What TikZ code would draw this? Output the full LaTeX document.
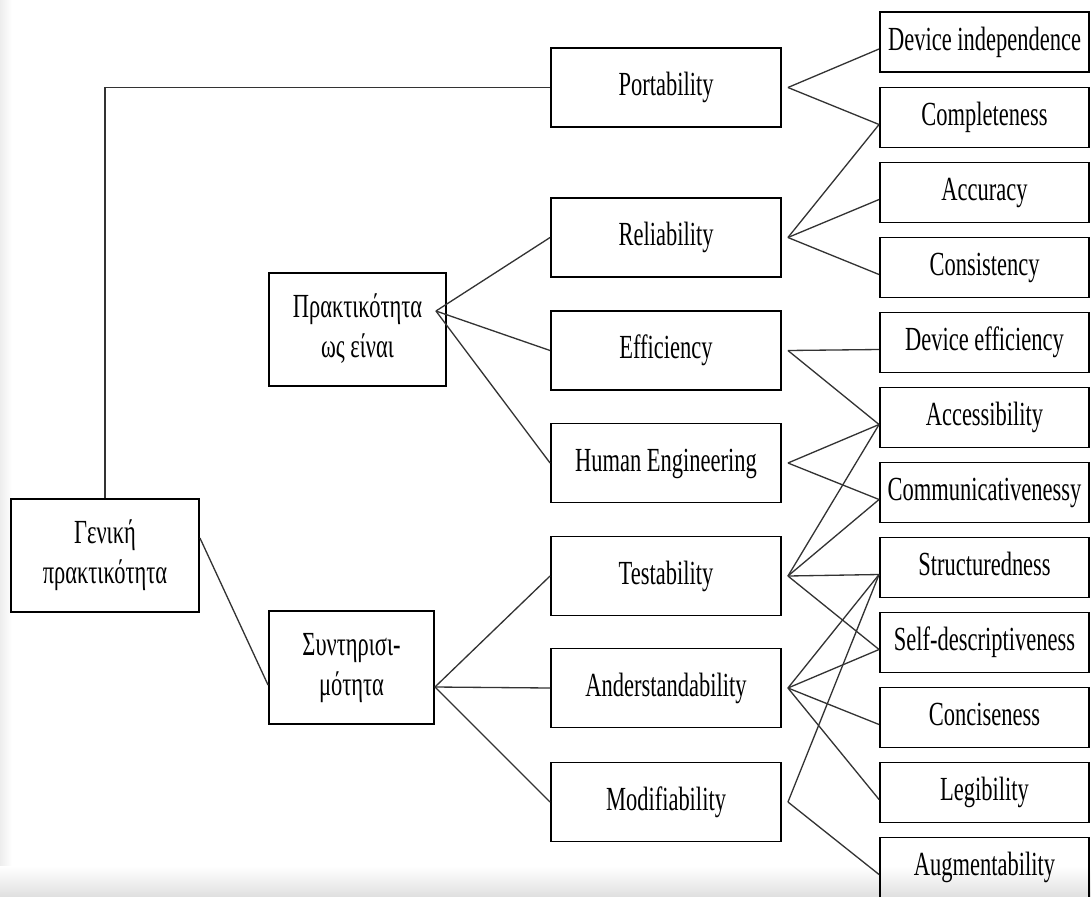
\documentclass[tikz,border=0pt]{standalone}
\usepackage{fontspec}
\setmainfont{Liberation Serif}
\usepackage{graphicx}
\usepackage{tikz}

% the scanned labels are tall and narrow
\newcommand{\tallbox}[1]{\scalebox{1}[1.5]{\begin{tabular}{@{}c@{}}#1\end{tabular}}}

\begin{document}
\begin{tikzpicture}[
  x=0.02cm, y=-0.02cm,
  font=\fontsize{12.8}{15.4}\selectfont,
  nodebox/.style={draw, line width=1.1pt, inner sep=0pt, align=center},
  topbox/.style={nodebox, minimum height=2.26cm},
  midbox/.style={nodebox, minimum width=4.6cm, minimum height=1.58cm},
  leafbox/.style={nodebox, minimum width=4.18cm, minimum height=1.2cm},
  link/.style={line width=0.75pt, draw=black!80},
]
\useasboundingbox (0,0) rectangle (1091,896);
\shade[left color=black!7, right color=white] (0,0) rectangle (12,896);
\shade[top color=white, bottom color=black!12] (0,866) rectangle (1091,896);

\node[topbox, minimum width=3.76cm] (gen) at (105,555.5) {\tallbox{Γενική\\πρακτικότητα}};
\node[topbox, minimum width=3.54cm] (prakt) at (357.5,329.5) {\tallbox{Πρακτικότητα\\ως είναι}};
\node[topbox, minimum width=3.3cm] (synt) at (351.5,667.5) {\tallbox{Συντηρισι-\\μότητα}};

\node[midbox] (port) at (666,87.5) {\tallbox{Portability}};
\node[midbox] (rel) at (666,237.5) {\tallbox{Reliability}};
\node[midbox] (eff) at (666,350.5) {\tallbox{Efficiency}};
\node[midbox] (hum) at (666,463) {\tallbox{Human Engineering}};
\node[midbox] (test) at (666,576) {\tallbox{Testability}};
\node[midbox] (und) at (666,688) {\tallbox{Anderstandability}};
\node[midbox] (mod) at (666,802) {\tallbox{Modifiability}};

\node[leafbox] (devind) at (984.5,42) {\tallbox{Device independence}};
\node[leafbox] (compl) at (984.5,117.5) {\tallbox{Completeness}};
\node[leafbox] (accur) at (984.5,192.5) {\tallbox{Accuracy}};
\node[leafbox] (consis) at (984.5,267.5) {\tallbox{Consistency}};
\node[leafbox] (deveff) at (984.5,342.5) {\tallbox{Device efficiency}};
\node[leafbox] (access) at (984.5,417.5) {\tallbox{Accessibility}};
\node[leafbox] (commun) at (984.5,492.5) {\tallbox{Communicativenessy}};
\node[leafbox] (struct) at (984.5,567.5) {\tallbox{Structuredness}};
\node[leafbox] (selfdesc) at (984.5,642.5) {\tallbox{Self-descriptiveness}};
\node[leafbox] (concise) at (984.5,717.5) {\tallbox{Conciseness}};
\node[leafbox] (legib) at (984.5,792.5) {\tallbox{Legibility}};
\node[leafbox] (augment) at (984.5,867.5) {\tallbox{Augmentability}};

\coordinate (praktout) at ([xshift=-0.22cm, yshift=0.37cm]prakt.east);
\coordinate (syntout) at ([yshift=-0.39cm]synt.east);

\draw[link] (gen.north) |- (port.west);
\draw[link] ([yshift=0.35cm]gen.east) -- ([yshift=-0.35cm]synt.west);
\draw[link] (praktout) -- (rel.west);
\draw[link] (praktout) -- (eff.west);
\draw[link] (praktout) -- (hum.west);
\draw[link] (syntout) -- (test.west);
\draw[link] (syntout) -- (und.west);
\draw[link] (syntout) -- (mod.west);

\draw[link] ([xshift=0.12cm]port.east) -- ([yshift=-0.14cm]devind.west);
\draw[link] ([xshift=0.12cm]port.east) -- ([yshift=-0.14cm]compl.west);
\draw[link] ([xshift=0.12cm]rel.east) -- ([yshift=-0.14cm]compl.west);
\draw[link] ([xshift=0.12cm]rel.east) -- ([yshift=-0.14cm]accur.west);
\draw[link] ([xshift=0.12cm]rel.east) -- ([yshift=-0.14cm]consis.west);
\draw[link] ([xshift=0.12cm]eff.east) -- ([yshift=-0.14cm]deveff.west);
\draw[link] ([xshift=0.12cm]eff.east) -- ([yshift=-0.14cm]access.west);
\draw[link] ([xshift=0.12cm]hum.east) -- ([yshift=-0.14cm]access.west);
\draw[link] ([xshift=0.12cm]hum.east) -- ([yshift=-0.14cm]commun.west);
\draw[link] ([xshift=0.12cm]test.east) -- ([yshift=-0.14cm]access.west);
\draw[link] ([xshift=0.12cm]test.east) -- ([yshift=-0.14cm]commun.west);
\draw[link] ([xshift=0.12cm]test.east) -- ([yshift=-0.14cm]struct.west);
\draw[link] ([xshift=0.12cm]test.east) -- ([yshift=-0.14cm]selfdesc.west);
\draw[link] ([xshift=0.12cm]und.east) -- ([yshift=-0.14cm]struct.west);
\draw[link] ([xshift=0.12cm]und.east) -- ([yshift=-0.14cm]selfdesc.west);
\draw[link] ([xshift=0.12cm]und.east) -- ([yshift=-0.14cm]concise.west);
\draw[link] ([xshift=0.12cm]und.east) -- ([yshift=-0.14cm]legib.west);
\draw[link] ([xshift=0.12cm]mod.east) -- ([yshift=-0.14cm]struct.west);
\draw[link] ([xshift=0.12cm]mod.east) -- ([yshift=-0.14cm]augment.west);
\end{tikzpicture}
\end{document}
